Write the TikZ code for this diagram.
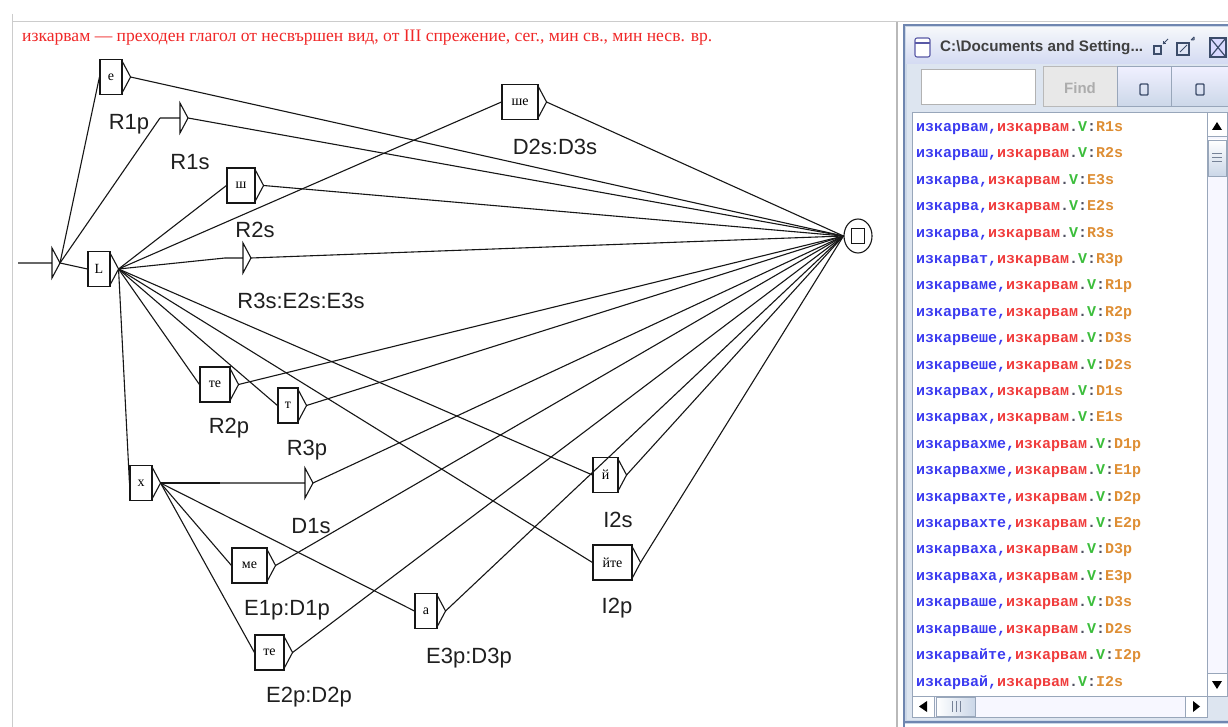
\documentclass[tikz,border=0pt]{standalone}
\usepackage{graphicx}
\usepackage{fontspec}
\setmainfont{Liberation Serif}
\newfontfamily\labfont{Liberation Sans}
\newfontfamily\rowfont{Liberation Mono}
\usetikzlibrary{calc,shapes.geometric}

\definecolor{wirec}{HTML}{161616}
\definecolor{headred}{HTML}{F02828}
\definecolor{formblue}{HTML}{3B3BF0}
\definecolor{lemred}{HTML}{F03C3C}
\definecolor{vgreen}{HTML}{3CBE3C}
\definecolor{codeor}{HTML}{DE8E34}
\definecolor{punct}{HTML}{505060}
\definecolor{winframe}{HTML}{CBD7E8}
\definecolor{winborder}{HTML}{6F86B0}
\definecolor{panelbg}{HTML}{DDE5F0}
\definecolor{iconc}{HTML}{3C4C6A}
\definecolor{listborder}{HTML}{98A6BA}

\tikzset{
  wire/.style={draw=wirec, line width=1.1pt},
  gbx/.style={draw=wirec, line width=1.1pt, rectangle, minimum height=35pt,
    inner sep=0pt, font=\fontsize{14}{14}\selectfont},
  outlab/.style={font=\labfont\fontsize{22}{22}\selectfont, text=black!88, inner sep=0pt},
  rowtxt/.style={font=\rowfont\bfseries\fontsize{15}{15}\selectfont, inner sep=0pt, anchor=west},
  grip/.style={draw=iconc!70, line width=0.6pt},
}

% box with a right-pointing output triangle: name, x, y, width, text
\newcommand\gbox[5]{%
  \node[gbx, minimum width=#4pt] (#1) at (#2,#3) {#5};
  \draw[wire] ($(#1.north east)+(0,3)$) -- ($(#1.east)+(8,0)$) coordinate (#1o)
    -- ($(#1.south east)+(0,-3)$);
}
% empty box: name, left x, triangle x, y
\newcommand\ebox[4]{%
  \coordinate (#1) at (#2,#4);
  \draw[wire] (#1) -- (#3,#4) -- (#3,#4-15) -- (#3+8,#4) coordinate (#1o)
    -- (#3,#4+15) -- (#3,#4);
}
% one line of the concordance list: name, y, form, code
\newcommand\lrow[4]{%
  \node[rowtxt] (#1) at (916,#2) {\textcolor{formblue}{#3,}\textcolor{lemred}{изкарвам}\textcolor{punct}{.}\textcolor{vgreen}{V}\textcolor{punct}{:}\textcolor{codeor}{#4}};
}

\begin{document}
\begin{tikzpicture}[x=1pt,y=-1pt]
\useasboundingbox (0,0) rectangle (1228,727);
\fill[white] (0,0) rectangle (1228,727);

% frame lines of the graph panel
\draw[gray!40, line width=1pt] (12,22) -- (1228,22);
\draw[gray!40, line width=1pt] (12,14) -- (12,727);
\draw[gray!55, line width=1.2pt] (897,22) -- (897,727);

% heading of the graph
\node[anchor=west, text=headred, inner sep=0pt] (head) at (22,38)
  {\resizebox{690pt}{!}{изкарвам — преходен глагол от несвършен вид, от III спрежение, сег., мин св., мин несв. вр.}};

% ---------------- graph ----------------
\ebox{init}{18}{52}{263}
\gbox{bE}{111}{77}{22}{е}
\ebox{eR1}{160}{180}{118}
\gbox{bSh}{241}{185.5}{28}{ш}
\gbox{bL}{99}{269}{22}{L}
\ebox{eR3}{225}{243}{258}
\gbox{bShe}{520}{102}{36}{ше}
\gbox{bTe}{215}{384.5}{30}{те}
\gbox{bT}{288}{405.5}{20}{т}
\gbox{bH}{141}{483}{22}{х}
\ebox{eD1}{220}{305}{483}
\gbox{bMe}{249.5}{565.5}{35}{ме}
\gbox{bTe2}{269.5}{652.5}{29}{те}
\gbox{bA}{426}{611}{22}{а}
\gbox{bJ}{605.5}{475}{25}{й}
\gbox{bJte}{612.5}{562.5}{39}{йте}

% final state
\node[draw=wirec, line width=1.1pt, ellipse, minimum width=28pt, minimum height=34pt,
  inner sep=0pt] (fin) at (858,236) {};
\node[draw=wirec, line width=1.3pt, minimum width=13pt, minimum height=15pt,
  inner sep=0pt] (finsq) at (fin.center) {};

% transitions
\foreach \t in {bE.west, eR1, bL.west}
  \draw[wire] (inito) -- (\t);
\foreach \t in {bSh.west, bShe.west, eR3, bTe.west, bT.west, bJ.west, bJte.west, bH.west}
  \draw[wire] (bLo) -- (\t);
\foreach \t in {eD1, bMe.west, bTe2.west, bA.west}
  \draw[wire] (bHo) -- (\t);
\foreach \s in {bEo, eR1o, bSho, eR3o, bSheo, bTeo, bTo, eD1o, bMeo, bTe2o, bAo, bJo, bJteo}
  \draw[wire] (\s) -- (fin.west);

% outputs
\node[outlab] (oR1p) at (129,124) {R1p};
\node[outlab] (oR1s) at (190,162) {R1s};
\node[outlab] (oR2s) at (255,230) {R2s};
\node[outlab] (oR3s) at (301,301) {R3s:E2s:E3s};
\node[outlab] (oD2s) at (555,147) {D2s:D3s};
\node[outlab] (oR2p) at (229,428) {R2p};
\node[outlab] (oR3p) at (307,450) {R3p};
\node[outlab] (oD1s) at (311,526) {D1s};
\node[outlab] (oE1p) at (287,610) {E1p:D1p};
\node[outlab] (oE2p) at (309,697) {E2p:D2p};
\node[outlab] (oE3p) at (469,658) {E3p:D3p};
\node[outlab] (oI2s) at (618,520) {I2s};
\node[outlab] (oI2p) at (617,608) {I2p};

% ---------------- result window ----------------
\fill[winframe] (903,24) rectangle (1228,724);
\shade[top color=white!80!winframe, bottom color=winframe!90!blue!60] (906,28) rectangle (1228,64);
\fill[panelbg] (907,64) rectangle (1228,720);
\draw[winborder, line width=2pt] (904,727) -- (904,25) -- (1228,25);
\draw[winborder, line width=1.6pt] (904,722) -- (1228,722);

% title bar
\draw[draw=gray!70!blue, fill=white, line width=1.1pt, rounded corners=2pt] (915,38) rectangle (930,57);
\draw[draw=gray!70!blue, line width=1.1pt] (915,43) -- (930,43);
\node[anchor=west, inner sep=0pt, text=black!75] (wtitle) at (940,48)
  {\resizebox{203pt}{!}{\labfont\bfseries C:\textbackslash Documents and Setting...}};
\draw[iconc, line width=1.5pt] (1154,46) rectangle (1161,54);
\draw[iconc, line width=1pt] (1163,44) -- (1168,39);
\draw[iconc, line width=1pt] (1163,44) -- (1163,41) (1163,44) -- (1166,44);
\draw[iconc, line width=1.5pt] (1177,43) rectangle (1189,55);
\draw[iconc, line width=1pt] (1180,52) -- (1187,45);
\draw[iconc, line width=1pt] (1191,40) -- (1194,37) (1191,40) -- (1194,40) (1194,37) -- (1194,40);
\draw[iconc, line width=1.5pt, fill=white!85!blue] (1210,38) rectangle (1226,57);
\draw[iconc, line width=1.2pt] (1211,39) -- (1225,56) (1225,39) -- (1211,56);

% tool bar
\draw[draw=gray!60, fill=white, line width=1pt] (921,70) rectangle (1035,105);
\draw[draw=gray!55, fill=gray!18, line width=1pt] (1043,67) rectangle (1117,107);
\node[inner sep=0pt, text=gray!65, font=\labfont\bfseries\fontsize{15}{15}\selectfont] (find) at (1080,88) {Find};
\shade[top color=white!85!blue!40, bottom color=winframe] (1117,67) rectangle (1228,107);
\draw[draw=listborder, line width=1pt] (1117,67) rectangle (1171,107) (1171,67) -- (1171,107) -- (1228,107) (1171,67) -- (1228,67);
\draw[iconc, line width=1.4pt, rounded corners=1pt] (1140,84) rectangle (1148,95);
\draw[iconc, line width=1.4pt, rounded corners=1pt] (1196,84) rectangle (1204,95);

% list
\draw[draw=listborder, fill=white, line width=1pt] (912,113) rectangle (1207,696);
\lrow{r01}{128}{изкарвам}{R1s}
\lrow{r02}{154.4}{изкарваш}{R2s}
\lrow{r03}{180.8}{изкарва}{E3s}
\lrow{r04}{207.2}{изкарва}{E2s}
\lrow{r05}{233.6}{изкарва}{R3s}
\lrow{r06}{260.0}{изкарват}{R3p}
\lrow{r07}{286.4}{изкарваме}{R1p}
\lrow{r08}{312.8}{изкарвате}{R2p}
\lrow{r09}{339.2}{изкарвеше}{D3s}
\lrow{r10}{365.6}{изкарвеше}{D2s}
\lrow{r11}{392.0}{изкарвах}{D1s}
\lrow{r12}{418.4}{изкарвах}{E1s}
\lrow{r13}{444.8}{изкарвахме}{D1p}
\lrow{r14}{471.2}{изкарвахме}{E1p}
\lrow{r15}{497.6}{изкарвахте}{D2p}
\lrow{r16}{524.0}{изкарвахте}{E2p}
\lrow{r17}{550.4}{изкарваха}{D3p}
\lrow{r18}{576.8}{изкарваха}{E3p}
\lrow{r19}{603.2}{изкарваше}{D3s}
\lrow{r20}{629.6}{изкарваше}{D2s}
\lrow{r21}{656.0}{изкарвайте}{I2p}
\lrow{r22}{682.4}{изкарвай}{I2s}

% vertical scroll bar
\draw[draw=listborder, fill=white!90!blue!30, line width=1pt] (1207,113) rectangle (1227,696);
\draw[draw=listborder, fill=white, line width=1pt] (1207,113) rectangle (1227,137);
\fill[black] (1217,122) -- (1212,130) -- (1222,130) -- cycle;
\shade[top color=white, bottom color=winframe, draw=listborder] (1208,140) rectangle (1226,176);
\draw[grip] (1212,153) -- (1222,153) (1212,157) -- (1222,157) (1212,161) -- (1222,161);
\draw[draw=listborder, fill=white, line width=1pt] (1207,673) rectangle (1227,696);
\fill[black] (1212,681) -- (1222,681) -- (1217,689) -- cycle;

% horizontal scroll bar
\draw[draw=listborder, fill=white!90!blue!30, line width=1pt] (912,696) rectangle (1207,717);
\draw[draw=listborder, fill=white, line width=1pt] (912,696) rectangle (934,717);
\fill[black] (919,706.5) -- (927,701) -- (927,712) -- cycle;
\shade[left color=white, right color=winframe, draw=listborder] (936,697) rectangle (975,716);
\draw[grip] (952,701) -- (952,712) (956,701) -- (956,712) (960,701) -- (960,712);
\draw[draw=listborder, fill=white, line width=1pt] (1185,696) rectangle (1207,717);
\fill[black] (1200,706.5) -- (1193,701) -- (1193,712) -- cycle;
\end{tikzpicture}
\end{document}
